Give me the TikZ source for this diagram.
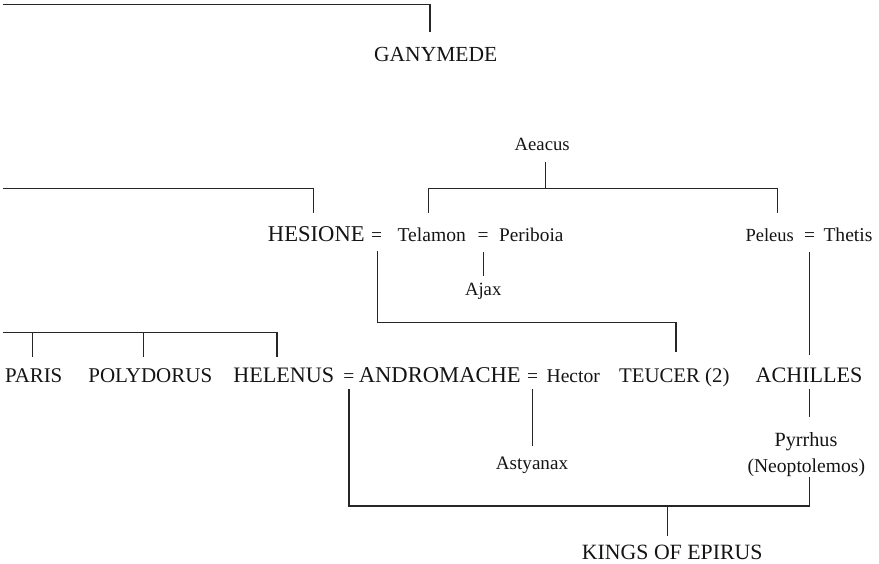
\documentclass[tikz,border=0pt]{standalone}
\usepackage{fontspec}
\setmainfont{Liberation Serif}
\begin{document}
\begin{tikzpicture}[x=1pt,y=-1pt,
  capname/.style={font=\fontsize{#1}{24}\selectfont, inner sep=0pt, anchor=base, text=black!92},
  capname/.default=21.5,
  lowname/.style={font=\fontsize{#1}{22}\selectfont, inner sep=0pt, anchor=base, text=black!92},
  lowname/.default=19.5,
  conn/.style={draw=black!85, line width=1.1pt, line cap=butt, line join=miter}]
\useasboundingbox (0,0) rectangle (879,564);

% names
\node[capname=21.5] (gany) at (435.7,61.7) {GANYMEDE};
\node[lowname=18.7] (aeacus) at (542.2,151) {Aeacus};
\node[capname=22.6] (hesione) at (316.3,242) {HESIONE};
\node[lowname] (eqA) at (376.5,242) {=};
\node[lowname=19.6] (telamon) at (431.7,242) {Telamon};
\node[lowname] (eqB) at (483.2,242) {=};
\node[lowname=19.3] (periboia) at (531.3,242) {Periboia};
\node[lowname=18.5] (peleus) at (769.7,242) {Peleus};
\node[lowname] (eqC) at (809.6,242) {=};
\node[lowname=19.6] (thetis) at (848,242) {Thetis};
\node[lowname=18.7] (ajax) at (483.2,296) {Ajax};
\node[capname=20.9] (paris) at (33.7,382) {PARIS};
\node[capname=21] (polydorus) at (150.3,382) {POLYDORUS};
\node[capname=22.1] (helenus) at (283.8,382) {HELENUS};
\node[lowname] (eqD) at (348.9,382) {=};
\node[capname=22.6] (andromache) at (439.8,382) {ANDROMACHE};
\node[lowname] (eqE) at (532.7,382) {=};
\node[lowname=19.6] (hector) at (573.3,382) {Hector};
\node[capname=20.8] (teucer) at (674.3,382) {TEUCER (2)};
\node[capname=22.1] (achilles) at (809,382) {ACHILLES};
\node[lowname=19.1] (astyanax) at (532,469) {Astyanax};
\node[lowname=20.2] (pyrrhus) at (806,446) {Pyrrhus};
\node[lowname=19.6] (neo) at (806.3,472.7) {(Neoptolemos)};
\node[capname=21.8] (kings) at (672.2,559.5) {KINGS OF EPIRUS};

% junction coordinates
\coordinate (topL) at (2.5,4.3);
\coordinate (gany-up) at (430,31.7);
\coordinate (hesL) at (2.5,188.3);
\coordinate (hes-up) at (313.3,212.7);
\coordinate (aea-dn) at (545.7,162.3);
\coordinate (aea-bar) at (545.7,188.3);
\coordinate (tel-up) at (428.3,212.7);
\coordinate (pel-up) at (777.7,212.7);
\coordinate (eqB-dn) at (483.1,251.7);
\coordinate (ajax-up) at (483.1,275.7);
\coordinate (eqA-dn) at (377.7,250.7);
\coordinate (teu-bar) at (676,322.9);
\coordinate (teu-up) at (676,352.3);
\coordinate (eqC-dn) at (809.5,251.7);
\coordinate (ach-up) at (809.5,355);
\coordinate (sibL) at (2.5,332.7);
\coordinate (par-up) at (32.3,357.3);
\coordinate (pol-up) at (143.7,357.3);
\coordinate (hel-up) at (277,357.3);
\coordinate (eqD-dn) at (349,389);
\coordinate (neo-dn) at (809.3,476.7);
\coordinate (epi-bar) at (667.7,506);
\coordinate (kings-up) at (667.7,536);
\coordinate (eqE-dn) at (532.7,389);
\coordinate (ast-up) at (532.7,446);
\coordinate (ach-dn) at (809.3,389);
\coordinate (pyr-up) at (809.3,416.7);

% connectors
\draw[conn] (topL) -| (gany-up);
\draw[conn] (hesL) -| (hes-up);
\draw[conn] (aea-dn) -- (aea-bar);
\draw[conn] (tel-up) |- (aea-bar) -| (pel-up);
\draw[conn] (eqB-dn) -- (ajax-up);
\draw[conn] (eqA-dn) |- (teu-bar) -- (teu-up);
\draw[conn] (eqC-dn) -- (ach-up);
\draw[conn] (sibL) -| (hel-up);
\draw[conn] (par-up) -- (par-up |- sibL);
\draw[conn] (pol-up) -- (pol-up |- sibL);
\draw[conn] (eqD-dn) |- (epi-bar) -| (neo-dn);
\draw[conn] (epi-bar) -- (kings-up);
\draw[conn] (eqE-dn) -- (ast-up);
\draw[conn] (ach-dn) -- (pyr-up);
\end{tikzpicture}
\end{document}
